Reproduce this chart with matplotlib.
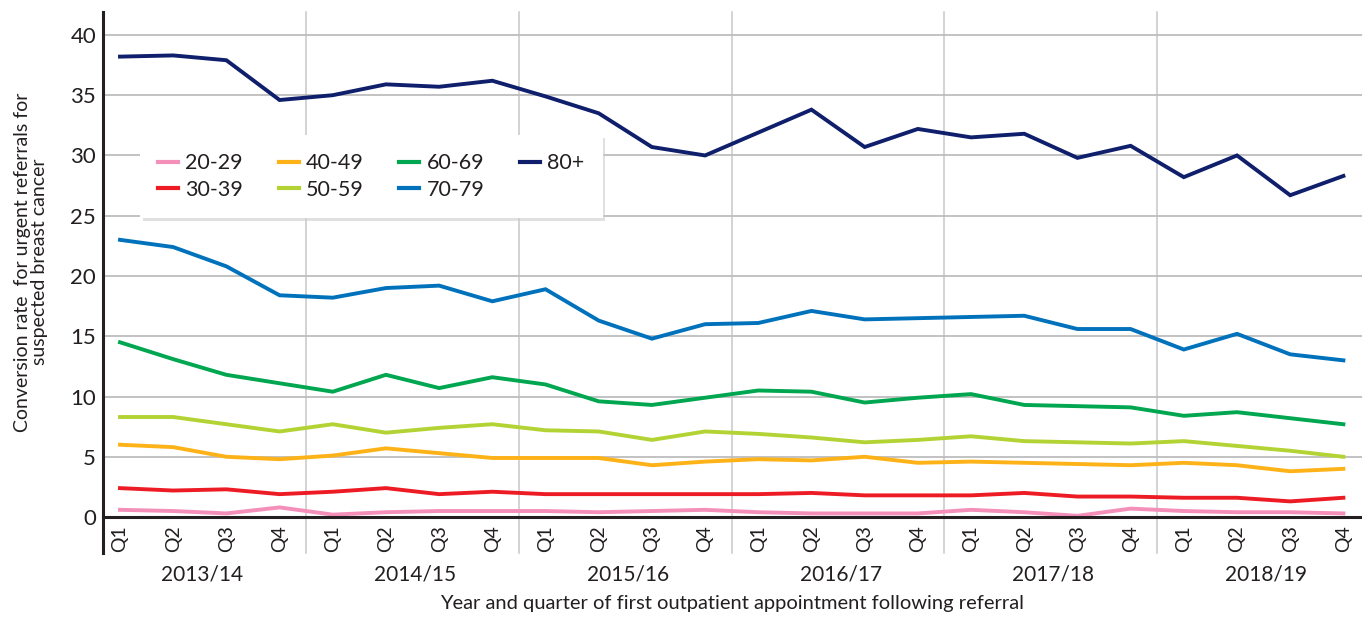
import numpy as np
import matplotlib
matplotlib.use("Agg")
import matplotlib.pyplot as plt
import matplotlib.transforms as mtransforms

plt.rcParams['font.family'] = ['Lato', 'DejaVu Sans']

years = ['2013/14', '2014/15', '2015/16', '2016/17', '2017/18', '2018/19']
quarters = ['Q1', 'Q2', 'Q3', 'Q4']
ages = ['20-29', '30-39', '40-49', '50-59', '60-69', '70-79', '80+']
colors = ['#F48FBA', '#ED1C24', '#FDB218', '#B3D334', '#00A650', '#0072BC', '#0F1F6B']

rate_20_29 = [0.6, 0.5, 0.3, 0.8, 0.2, 0.4, 0.5, 0.5, 0.5, 0.4, 0.5, 0.6,
              0.4, 0.3, 0.3, 0.3, 0.6, 0.4, 0.1, 0.7, 0.5, 0.4, 0.4, 0.3]
rate_30_39 = [2.4, 2.2, 2.3, 1.9, 2.1, 2.4, 1.9, 2.1, 1.9, 1.9, 1.9, 1.9,
              1.9, 2.0, 1.8, 1.8, 1.8, 2.0, 1.7, 1.7, 1.6, 1.6, 1.3, 1.6]
rate_40_49 = [6.0, 5.8, 5.0, 4.8, 5.1, 5.7, 5.3, 4.9, 4.9, 4.9, 4.3, 4.6,
              4.8, 4.7, 5.0, 4.5, 4.6, 4.5, 4.4, 4.3, 4.5, 4.3, 3.8, 4.0]
rate_50_59 = [8.3, 8.3, 7.7, 7.1, 7.7, 7.0, 7.4, 7.7, 7.2, 7.1, 6.4, 7.1,
              6.9, 6.6, 6.2, 6.4, 6.7, 6.3, 6.2, 6.1, 6.3, 5.9, 5.5, 5.0]
rate_60_69 = [14.5, 13.1, 11.8, 11.1, 10.4, 11.8, 10.7, 11.6, 11.0, 9.6, 9.3, 9.9,
              10.5, 10.4, 9.5, 9.9, 10.2, 9.3, 9.2, 9.1, 8.4, 8.7, 8.2, 7.7]
rate_70_79 = [23.0, 22.4, 20.8, 18.4, 18.2, 19.0, 19.2, 17.9, 18.9, 16.3, 14.8, 16.0,
              16.1, 17.1, 16.4, 16.5, 16.6, 16.7, 15.6, 15.6, 13.9, 15.2, 13.5, 13.0]
rate_80 = [38.2, 38.3, 37.9, 34.6, 35.0, 35.9, 35.7, 36.2, 34.9, 33.5, 30.7, 30.0,
           31.9, 33.8, 30.7, 32.2, 31.5, 31.8, 29.8, 30.8, 28.2, 30.0, 26.7, 28.3]

series = [rate_20_29, rate_30_39, rate_40_49, rate_50_59, rate_60_69, rate_70_79, rate_80]

x = np.arange(len(years) * len(quarters))

fig = plt.figure(figsize=(13.62, 6.17), dpi=100)
ax = fig.add_axes([0.0756, 0.162, 0.9244, 0.8185])

for vals, lab, c in zip(series, ages, colors):
    ax.plot(x, vals, color=c, lw=2.8, label=lab, solid_joinstyle='miter', zorder=3)

ax.set_xlim(-0.32, 23.35)
ax.set_ylim(0, 41.9)
ax.set_yticks(range(0, 41, 5))
ax.tick_params(axis='y', labelsize=16, length=0, pad=5, colors='#231f20')
ax.set_xticks(x)
ax.set_xticklabels(quarters * len(years), rotation=90, fontsize=14, color='#231f20')
ax.tick_params(axis='x', length=0, pad=6)
ax.grid(axis='y', color='#bdbdbd', lw=1.3, zorder=0)

for s in ['top', 'right', 'left']:
    ax.spines[s].set_visible(False)
ax.spines['bottom'].set_linewidth(2.2)
ax.spines['bottom'].set_color('#231f20')
ax.spines['bottom'].set_zorder(4)

trans = mtransforms.blended_transform_factory(ax.transData, ax.transAxes)
for i in range(1, len(years)):
    ax.plot([4 * i - 0.5] * 2, [-0.072, 1.0], transform=trans, color='#c8c8c8',
            lw=1.1, clip_on=False, zorder=1)
ax.plot([-0.32, -0.32], [-0.072, 1.0], transform=trans, color='#231f20', lw=2.2,
        clip_on=False, zorder=5)

for i, yr in enumerate(years):
    ax.text(4 * i + 1.55, -0.114, yr, transform=trans, ha='center', va='center',
            fontsize=15, color='#231f20')

ax.text(0.5, -0.172, 'Year and quarter of first outpatient appointment following referral',
        transform=ax.transAxes, ha='center', va='center', fontsize=14.5, color='#231f20')
fig.text(0.010, 0.575, 'Conversion rate  for urgent referrals for\nsuspected breast cancer',
         rotation=90, ha='left', va='center', fontsize=14, color='#231f20',
         multialignment='center', linespacing=1.0)

leg = ax.legend(loc='upper left', bbox_to_anchor=(0.0294, 0.7564), ncol=4,
                fontsize=15.5, frameon=True, fancybox=False, handlelength=0.93,
                handletextpad=0.33, columnspacing=1.65, labelspacing=0.3,
                borderpad=0.85, borderaxespad=0,
                shadow={'color': '#cccccc', 'alpha': 0.6})
leg.get_frame().set_edgecolor('white')
leg.get_frame().set_linewidth(0)
leg.set_zorder(6)
for t in leg.get_texts():
    t.set_color('#231f20')
for h in leg.get_lines():
    h.set_linewidth(3.0)

fig.savefig('out.png', dpi=100)
